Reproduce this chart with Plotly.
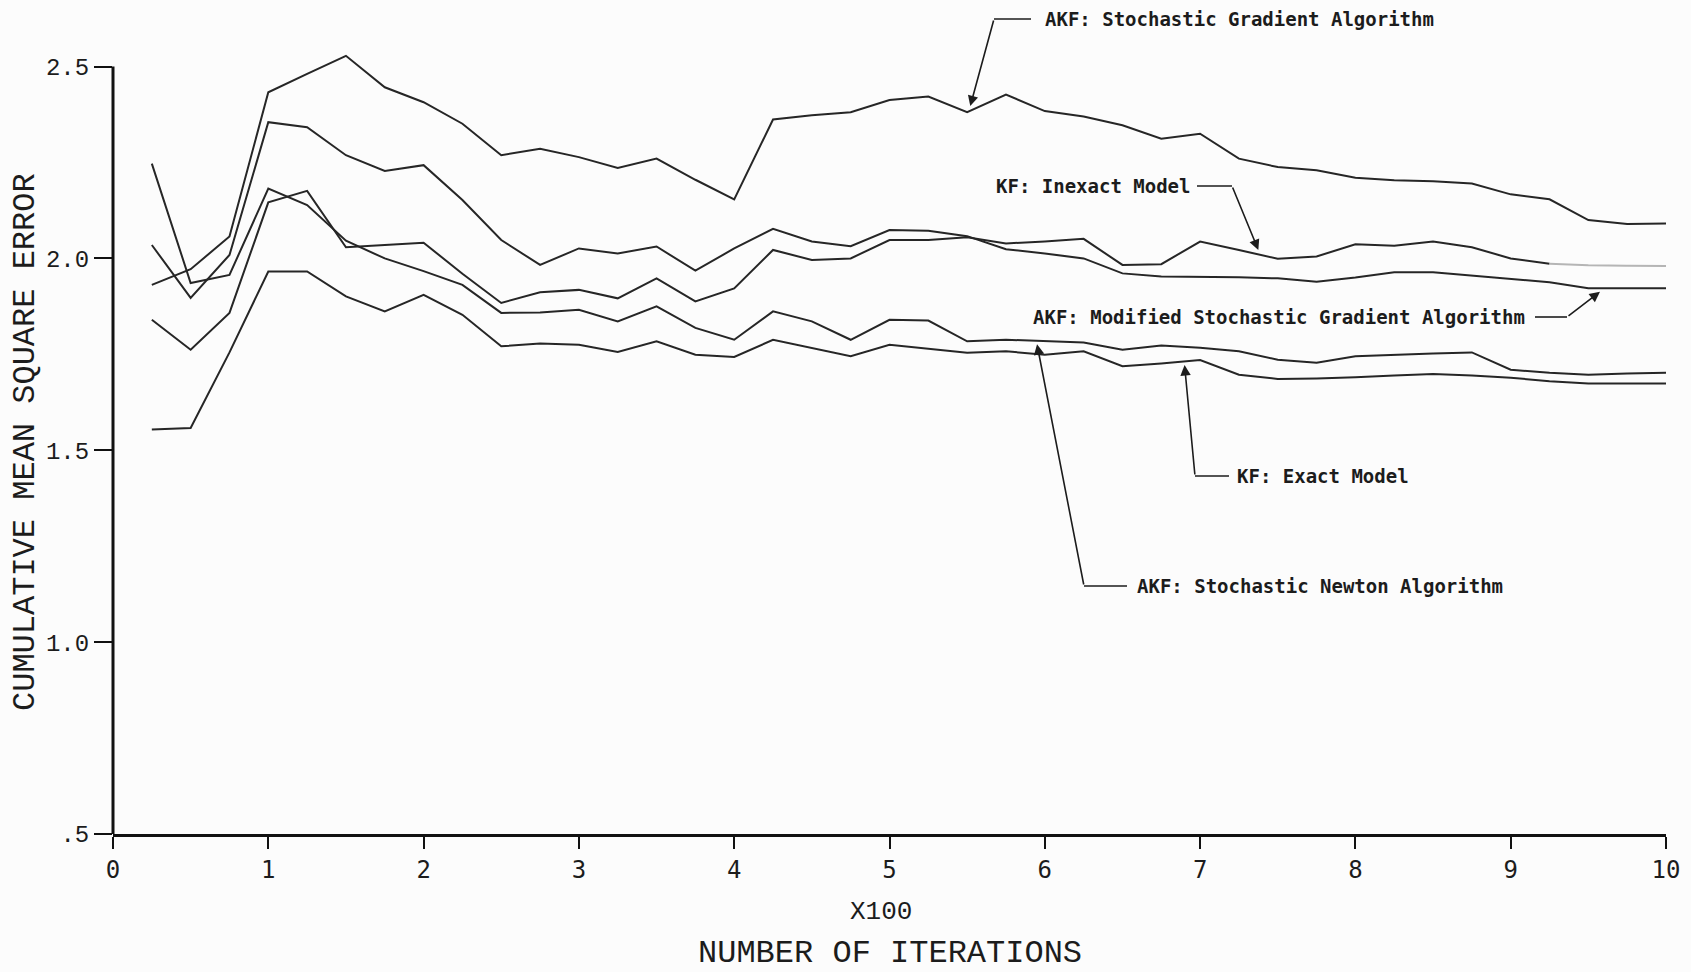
import plotly.graph_objects as go

# ---------------- data ----------------
iterations = list(range(25, 1001, 25))          # 40 sample points
x_vals = [it / 100 for it in iterations]         # axis is labelled x100

sg_alg = [1.931, 1.972, 2.057, 2.433, 2.481, 2.528, 2.446, 2.407, 2.351, 2.269,
          2.286, 2.264, 2.236, 2.260, 2.205, 2.154, 2.362, 2.373, 2.381, 2.413,
          2.422, 2.381, 2.427, 2.384, 2.370, 2.347, 2.312, 2.325, 2.260, 2.238,
          2.230, 2.210, 2.204, 2.201, 2.195, 2.167, 2.154, 2.100, 2.090, 2.091]

mod_sg_alg = [2.035, 1.897, 2.009, 2.355, 2.342, 2.269, 2.228, 2.243, 2.152, 2.048,
              1.983, 2.026, 2.013, 2.031, 1.968, 2.026, 2.077, 2.044, 2.032, 2.074,
              2.072, 2.058, 2.024, 2.013, 2.000, 1.961, 1.953, 1.952, 1.951, 1.948,
              1.939, 1.950, 1.964, 1.964, 1.955, 1.947, 1.938, 1.922, 1.922, 1.922]

kf_inexact = [1.840, 1.762, 1.858, 2.146, 2.176, 2.029, 2.035, 2.041, 1.960, 1.884,
              1.912, 1.918, 1.896, 1.948, 1.888, 1.922, 2.022, 1.996, 2.000, 2.048,
              2.048, 2.055, 2.039, 2.044, 2.051, 1.983, 1.985, 2.044, 2.022, 1.999,
              2.005, 2.037, 2.033, 2.044, 2.029, 2.000, 1.986, 1.982, 1.981, 1.980]

newton_alg = [2.247, 1.936, 1.957, 2.182, 2.139, 2.046, 2.000, 1.967, 1.931, 1.858,
              1.859, 1.866, 1.836, 1.875, 1.819, 1.788, 1.862, 1.836, 1.788, 1.840,
              1.838, 1.784, 1.788, 1.784, 1.781, 1.762, 1.773, 1.767, 1.758, 1.736,
              1.728, 1.745, 1.749, 1.752, 1.755, 1.710, 1.702, 1.697, 1.700, 1.702]

kf_exact = [1.554, 1.558, 1.755, 1.966, 1.966, 1.901, 1.862, 1.905, 1.853, 1.771,
            1.778, 1.775, 1.756, 1.784, 1.749, 1.743, 1.788, 1.767, 1.745, 1.775,
            1.765, 1.754, 1.758, 1.749, 1.758, 1.719, 1.726, 1.735, 1.697, 1.686,
            1.687, 1.690, 1.695, 1.699, 1.695, 1.689, 1.680, 1.674, 1.674, 1.674]

x_tick_vals = list(range(0, 11))
x_tick_text = [str(v) for v in x_tick_vals]
y_tick_vals = [0.5, 1.0, 1.5, 2.0, 2.5]
y_tick_text = [".5", "1.0", "1.5", "2.0", "2.5"]

# ---------------- geometry ----------------
W, H = 1691, 972
L, R, T, B = 113, 25, 9, 138
X0, X1 = 0.0, 10.0
Y0, Y1 = 0.5, 2.65
PW, PH = W - L - R, H - T - B


def px(x):
    return L + (x - X0) / (X1 - X0) * PW


def py(v):
    return T + (Y1 - v) / (Y1 - Y0) * PH


def pap_x(p):
    return (p - L) / PW


def pap_y(p):
    return (H - B - p) / PH


LINE_COL = "#262626"
fig = go.Figure()

series = [
    ("AKF: Stochastic Gradient Algorithm", sg_alg),
    ("AKF: Modified Stochastic Gradient Algorithm", mod_sg_alg),
    ("AKF: Stochastic Newton Algorithm", newton_alg),
    ("KF: Exact Model", kf_exact),
]
for name, vals in series:
    fig.add_trace(go.Scatter(x=x_vals, y=vals, mode="lines", name=name,
                             line=dict(color=LINE_COL, width=2), showlegend=False))

# KF inexact: last part printed faintly in the original
split = 36
fig.add_trace(go.Scatter(x=x_vals[:split + 1], y=kf_inexact[:split + 1], mode="lines",
                         name="KF: Inexact Model", line=dict(color=LINE_COL, width=2),
                         showlegend=False))
fig.add_trace(go.Scatter(x=x_vals[split:], y=kf_inexact[split:], mode="lines",
                         name="KF: Inexact Model (end)", line=dict(color="#b5b5b5", width=2),
                         showlegend=False))

# ---------------- labels with bent leader arrows ----------------
LABEL_FONT = dict(family="DejaVu Sans Mono", size=19, color="#1c1c1c")
labels = [
    # text, text x(px), text y(px), anchor, leader x from, leader x to, bend x, tip (data)
    ("AKF: Stochastic Gradient Algorithm", 1043, 19, "left", 994, 1031, 994, (5.52, 2.397)),
    ("KF: Inexact Model", 1192, 186, "right", 1197, 1232, 1232, (7.375, 2.022)),
    ("AKF: Modified Stochastic Gradient Algorithm", 1527, 317, "right", 1535, 1567, 1567, (9.575, 1.913)),
    ("KF: Exact Model", 1235, 476, "left", 1195, 1229, 1195, (6.9, 1.722)),
    ("AKF: Stochastic Newton Algorithm", 1135, 586, "left", 1084, 1127, 1084, (5.95, 1.776)),
]
annotations = []
shapes = []
for text, tx, ty, anch, lx0, lx1, bx, tip in labels:
    annotations.append(dict(text="<b>" + text + "</b>", xref="paper", yref="paper",
                            x=pap_x(tx), y=pap_y(ty), xanchor=anch, yanchor="middle",
                            showarrow=False, font=LABEL_FONT))
    shapes.append(dict(type="line", xref="paper", yref="paper",
                       x0=pap_x(lx0), x1=pap_x(lx1), y0=pap_y(ty), y1=pap_y(ty),
                       line=dict(color="#1c1c1c", width=1.6)))
    annotations.append(dict(text="", xref="x", yref="y", x=tip[0], y=tip[1],
                            ax=bx - px(tip[0]), ay=ty - py(tip[1]),
                            showarrow=True, arrowhead=2, arrowsize=1.3, arrowwidth=1.6,
                            arrowcolor="#1c1c1c", standoff=0))

# y axis line (from .5 to 2.5)
shapes.append(dict(type="line", xref="paper", yref="paper",
                   x0=0, x1=0, y0=0, y1=pap_y(py(2.5)),
                   line=dict(color="#111111", width=3)))

# axis titles
TITLE_FONT = dict(family="Liberation Mono", size=32, color="#1c1c1c")
annotations.append(dict(text="CUMULATIVE MEAN SQUARE ERROR", xref="paper", yref="paper",
                        x=pap_x(25), y=pap_y(442), textangle=-90, showarrow=False,
                        xanchor="center", yanchor="middle", font=TITLE_FONT))
annotations.append(dict(text="X100", xref="paper", yref="paper",
                        x=pap_x(881), y=pap_y(912), showarrow=False,
                        xanchor="center", yanchor="middle",
                        font=dict(family="Liberation Mono", size=26, color="#1c1c1c")))
annotations.append(dict(text="NUMBER OF ITERATIONS", xref="paper", yref="paper",
                        x=pap_x(890), y=pap_y(953), showarrow=False,
                        xanchor="center", yanchor="middle", font=TITLE_FONT))

fig.update_layout(
    width=W, height=H, autosize=False,
    margin=dict(l=L, r=R, t=T, b=B, pad=0),
    paper_bgcolor="#fcfcfc", plot_bgcolor="#fcfcfc",
    showlegend=False,
    annotations=annotations, shapes=shapes,
    xaxis=dict(range=[X0, X1], tickvals=x_tick_vals, ticktext=x_tick_text,
               showgrid=False, zeroline=False, showline=True, linewidth=3,
               linecolor="#111111", ticks="outside", ticklen=12, tickwidth=2,
               tickcolor="#111111",
               tickfont=dict(family="DejaVu Sans Mono", size=24, color="#1c1c1c")),
    yaxis=dict(range=[Y0, Y1], tickvals=y_tick_vals, ticktext=y_tick_text,
               showgrid=False, zeroline=False, showline=False, ticks="outside",
               ticklen=18, tickwidth=2, tickcolor="#111111",
               tickfont=dict(family="Liberation Mono", size=24, color="#1c1c1c")),
)

fig.write_html("out.html",
               config={"displayModeBar": False},
               post_script="document.body.style.margin='0';"
                           "document.body.style.padding='0';"
                           "document.body.style.overflow='hidden';")
